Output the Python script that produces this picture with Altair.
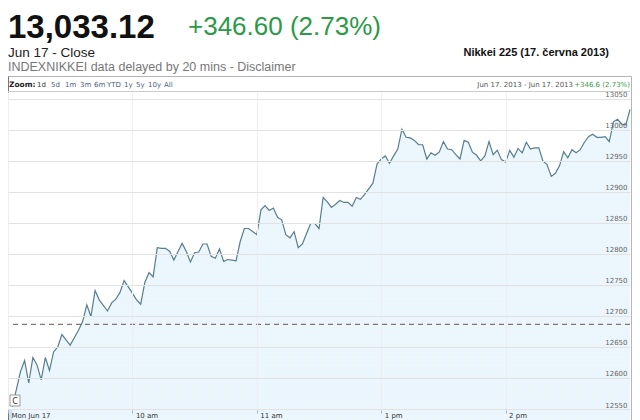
import altair as alt
import pandas as pd

# ---- data (trading minutes since 9:00, lunch break removed) ----
minutes = [2, 4, 6, 8, 10, 12, 14, 16, 18, 20, 22, 24, 26, 30, 34, 36, 38, 40, 42, 44,
           48, 50, 52, 54, 56, 59, 62, 64, 66, 68, 70, 72, 74, 76, 78, 80, 82, 84, 86, 88,
           90, 92, 94, 96, 98, 100, 102, 104, 106, 108, 110, 112, 114, 116, 118, 120, 122, 124, 126, 128,
           130, 132, 134, 136, 138, 140, 142, 144, 146, 148, 150, 152, 154, 156, 158, 160, 162, 164, 166, 168,
           170, 172, 174, 176, 178, 180, 182, 184, 186, 188, 190, 192, 194, 196, 198, 200, 202, 204, 206, 208,
           210, 212, 214, 216, 218, 220, 222, 224, 226, 228, 230, 232, 234, 236, 238, 240, 242, 244, 246, 248,
           250, 252, 254, 256, 258, 260, 262, 264, 266, 268, 270, 272, 274, 276, 278, 280, 282, 284, 286, 288,
           290, 292, 294, 296, 298, 300]
values = [12554, 12581, 12610, 12628, 12592, 12633, 12621, 12597, 12633, 12612, 12642, 12650, 12670, 12653, 12677, 12691, 12718, 12699, 12741, 12726,
          12708, 12721, 12727, 12738, 12757, 12742, 12726, 12719, 12754, 12770, 12763, 12810, 12809, 12809, 12804, 12790, 12804, 12817, 12804, 12787,
          12802, 12803, 12816, 12816, 12796, 12793, 12808, 12788, 12791, 12790, 12789, 12820, 12841, 12841, 12836, 12831, 12871, 12878, 12870, 12874,
          12859, 12855, 12831, 12826, 12836, 12810, 12816, 12833, 12849, 12849, 12841, 12891, 12884, 12875, 12880, 12886, 12883, 12883, 12877, 12891,
          12888, 12896, 12905, 12914, 12945, 12953, 12958, 12946, 12958, 12969, 13001, 12988, 12987, 12983, 12976, 12976, 12953, 12963, 12959, 12964,
          12981, 12969, 12968, 12960, 12953, 12983, 12980, 12964, 12959, 12950, 12958, 12981, 12960, 12967, 12952, 12948, 12967, 12956, 12970, 12963,
          12980, 12969, 12971, 12971, 12950, 12944, 12925, 12930, 12942, 12965, 12955, 12968, 12963, 12968, 12980, 12989, 12993, 12988, 12988, 12989,
          12981, 13013, 13017, 13009, 13008, 13033.12]
prev_close = 12686.52
y_ticks = [12550, 12600, 12650, 12700, 12750, 12800, 12850, 12900, 12950, 13000, 13050]
x_tick_pos = [0, 60, 120, 180, 240]
x_tick_labels = ["Mon Jun 17", "10 am", "11 am", "1 pm", "2 pm"]
zoom_links = ["5d", "1m", "3m", "6m", "YTD", "1y", "5y", "10y", "All"]

headline_value = "13,033.12"
headline_change = "+346.60 (2.73%)"
close_label = "Jun 17 - Close"
source_label = "INDEXNIKKEI data delayed by 20 mins - Disclaimer"
chart_title = "Nikkei 225 (17. června 2013)"
range_label = "Jun 17. 2013 - Jun 17. 2013"
range_change = "+346.6 (2.73%)"

df = pd.DataFrame({"m": minutes, "v": values})

W, H = 622, 318
FONT = "DejaVu Sans"
SANS = "Liberation Sans"

label_expr = " : ".join(f"datum.value == {p} ? '{l}'" for p, l in zip(x_tick_pos, x_tick_labels)) + " : ''"

x_scale = alt.Scale(domain=[0, 300], nice=False, zero=False)
y_scale = alt.Scale(domain=[12548.4, 13061], nice=False, zero=False)
x_axis = alt.Axis(values=x_tick_pos, labelExpr=label_expr, title=None, grid=True,
                  gridColor="#eeeeee", domain=False, tickColor="#9fb3c8", tickSize=3,
                  labelAlign="left", labelOffset=3, labelPadding=-2, labelFontSize=7,
                  labelFont=FONT, labelColor="#333333", labelBaseline="top",
                  labelFlush=False, labelOverlap=False, zindex=1)
y_axis = alt.Axis(orient="right", values=y_ticks, format="d", title=None, grid=True,
                  gridColor="#e2e2e2", domain=False, ticks=False, tickSize=0,
                  labelAlign="right", labelBaseline="bottom", labelPadding=-3,
                  labelOffset=-1, labelFontSize=7, labelColor="#666666", labelFont=FONT,
                  labelOverlap=False, labelFlush=False, zindex=1)

base = alt.Chart(df)

area = base.mark_area(
    color=alt.Gradient(gradient="linear",
                       stops=[alt.GradientStop(color="#ebf6fd", offset=0),
                              alt.GradientStop(color="#d9ecf9", offset=1)],
                       x1=1, x2=1, y1=0, y2=1)
).encode(x=alt.X("m:Q", scale=x_scale, axis=x_axis), y=alt.Y("v:Q", scale=y_scale, axis=y_axis))

line = base.mark_line(color="#587e8e", strokeWidth=1.2).encode(
    x=alt.X("m:Q", scale=x_scale, axis=x_axis), y=alt.Y("v:Q", scale=y_scale, axis=y_axis))

prev = alt.Chart(pd.DataFrame({"v": [prev_close]})).mark_rule(
    color="#6e5555", strokeDash=[5, 4], strokeWidth=1).encode(
    y=alt.Y("v:Q", scale=y_scale, axis=y_axis))

one = pd.DataFrame({"a": [0]})

band = alt.Chart(one).mark_rect(color="#cfe1f2").encode(
    x=alt.value(0), x2=alt.value(W), y=alt.value(H), y2=alt.value(H + 10))

frame = alt.Chart(one).mark_rect(fillOpacity=0, stroke="#b5b5b5", strokeWidth=1).encode(
    x=alt.value(0.5), x2=alt.value(W + 1.5), y=alt.value(-15.5), y2=alt.value(H + 12))
left_border = alt.Chart(one).mark_rule(color="#777777").encode(
    x=alt.value(0.5), y=alt.value(-15.5), y2=alt.value(H + 10))
top_sep = alt.Chart(one).mark_rule(color="#cccccc").encode(
    x=alt.value(0), x2=alt.value(W), y=alt.value(-0.5))

c_box = alt.Chart(one).mark_rect(fill="white", stroke="#999999", strokeWidth=1).encode(
    x=alt.value(2), x2=alt.value(12), y=alt.value(303), y2=alt.value(314))


def txt(s, x, y, size, color="#000000", weight="normal", font=FONT, align="left"):
    return alt.Chart(pd.DataFrame({"t": [s]})).mark_text(
        align=align, baseline="alphabetic", fontSize=size, color=color,
        fontWeight=weight, font=font).encode(text="t:N", x=alt.value(x), y=alt.value(y))


link_x = [43, 57, 72, 86, 99, 116, 128, 140, 156]

texts = [
    txt(headline_value, 0, -54, 33, "#111111", "bold", SANS),
    txt(headline_change, 180, -57, 26, "#2a9a47", "normal", SANS),
    txt(close_label, 0, -35, 13.5, "#222222", "normal", SANS),
    txt(source_label, 0, -21, 12.5, "#777777", "normal", SANS),
    txt(chart_title, 601, -36, 11, "#111111", "bold", SANS, "right"),
    txt("Zoom:", 1, -5, 7.5, "#222222", "bold"),
    txt("1d", 29, -5, 7, "#333333"),
    txt(range_change, W, -5, 7, "#3c9a4a", "normal", FONT, "right"),
    txt(range_label, W - 57, -5, 7, "#555555", "normal", FONT, "right"),
    txt("C", 7, 312, 8, "#333333", "normal", FONT, "center"),
]
texts += [txt(s, xx, -5, 7, "#4a5f80") for s, xx in zip(zoom_links, link_x)]

chart = alt.layer(band, area, line, prev, frame, left_border, top_sep, c_box, *texts).properties(
    width=W, height=H,
    autosize="none",
    padding={"left": 0, "top": 84, "right": 2, "bottom": 10},
    background="white",
).configure_view(stroke=None)

chart.save("out.html", embed_options={"renderer": "svg", "actions": False})
